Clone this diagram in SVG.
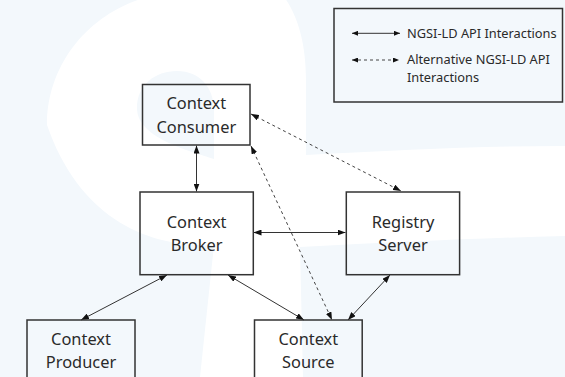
<svg xmlns="http://www.w3.org/2000/svg" width="565" height="377" viewBox="0 0 565 377">
  <style>
    .box { fill: none; stroke: #333; stroke-width: 1.5; }
    .label { font-family: "Noto Sans", "Open Sans", sans-serif; font-size: 16.4px; fill: #2a2a2a; text-anchor: middle; }
    .legend-text { font-family: "Noto Sans", "Open Sans", sans-serif; font-size: 12.8px; fill: #2a2a2a; }
    .link { fill: none; stroke: #333; stroke-width: 1; marker-start: url(#arrow); marker-end: url(#arrow); }
    .alt { fill: none; stroke: #444; stroke-width: 1; stroke-dasharray: 3 3; marker-start: url(#arrow); marker-end: url(#arrow); }
    .key { fill: none; stroke: #333; stroke-width: 1; marker-start: url(#arrow-small); marker-end: url(#arrow-small); }
    .key-alt { fill: none; stroke: #444; stroke-width: 1; stroke-dasharray: 3 3; marker-start: url(#arrow-small); marker-end: url(#arrow-small); }
  </style>
  <defs>
    <marker id="arrow" viewBox="0 0 8 6" markerWidth="8" markerHeight="6" refX="8" refY="3" orient="auto-start-reverse" markerUnits="userSpaceOnUse">
      <path d="M0,0 L8,3 L0,6 Z" fill="#111"/>
    </marker>
    <marker id="arrow-small" viewBox="0 0 6 5" markerWidth="6" markerHeight="5" refX="6" refY="2.5" orient="auto-start-reverse" markerUnits="userSpaceOnUse">
      <path d="M0,0 L6,2.5 L0,5 Z" fill="#111"/>
    </marker>
  </defs>

  <!-- faint logo watermark behind the diagram -->
  <g id="watermark">
    <rect x="0" y="0" width="565" height="377" fill="#f3f8fc"/>
    <path d="M47,125 C47,50 110,-8 185,-8 L280,-8 C296,10 306,40 306,80 L306,155 C400,150 480,146 565,146 L565,236 C480,238 400,242 300,247 L303,377 L200,377 L214,245 C150,248 80,220 47,125 Z" fill="#ffffff"/>
    <path d="M214,159 C190,151 137,138 137,108 C137,85 155,71 177,71 C200,71 214,88 214,110 Z" fill="#f3f8fc"/>
  </g>

  <!-- connectors -->
  <g id="connectors">
    <path class="link" d="M196.5,145.5 L196.5,191.5"/>
    <path class="link" d="M253.5,232.5 L345.5,232.5"/>
    <path class="link" d="M167,275 L81,320"/>
    <path class="link" d="M228,275 L304,320"/>
    <path class="link" d="M390,275 L348,320"/>
    <path class="alt" d="M251,114 L401,191"/>
    <path class="alt" d="M251,146 L332,320"/>
  </g>

  <g id="context-consumer">
    <rect class="box" x="142.5" y="84.5" width="107.5" height="60.5"/>
    <text class="label" x="196.3" y="109.3">Context</text>
    <text class="label" x="196.3" y="132.7">Consumer</text>
  </g>

  <g id="context-broker">
    <rect class="box" x="140" y="192" width="113.3" height="82.7"/>
    <text class="label" x="196.6" y="228">Context</text>
    <text class="label" x="196.6" y="251.2">Broker</text>
  </g>

  <g id="registry-server">
    <rect class="box" x="346.3" y="192" width="113.3" height="82.7"/>
    <text class="label" x="403" y="228">Registry</text>
    <text class="label" x="403" y="251.2">Server</text>
  </g>

  <g id="context-producer">
    <rect class="box" x="27" y="320" width="108" height="61"/>
    <text class="label" x="81" y="345">Context</text>
    <text class="label" x="81" y="368">Producer</text>
  </g>

  <g id="context-source">
    <rect class="box" x="254.5" y="320" width="107.7" height="61"/>
    <text class="label" x="308.3" y="345">Context</text>
    <text class="label" x="308.3" y="368">Source</text>
  </g>

  <g id="legend">
    <rect class="box" x="334" y="8.5" width="228.5" height="93.5"/>
    <path class="key" d="M352,33.3 L400,33.3"/>
    <text class="legend-text" x="407" y="37.5">NGSI-LD API Interactions</text>
    <path class="key-alt" d="M352,60 L399,60"/>
    <text class="legend-text" x="407" y="64.2">Alternative NGSI-LD API</text>
    <text class="legend-text" x="407" y="81.8">Interactions</text>
  </g>
</svg>
